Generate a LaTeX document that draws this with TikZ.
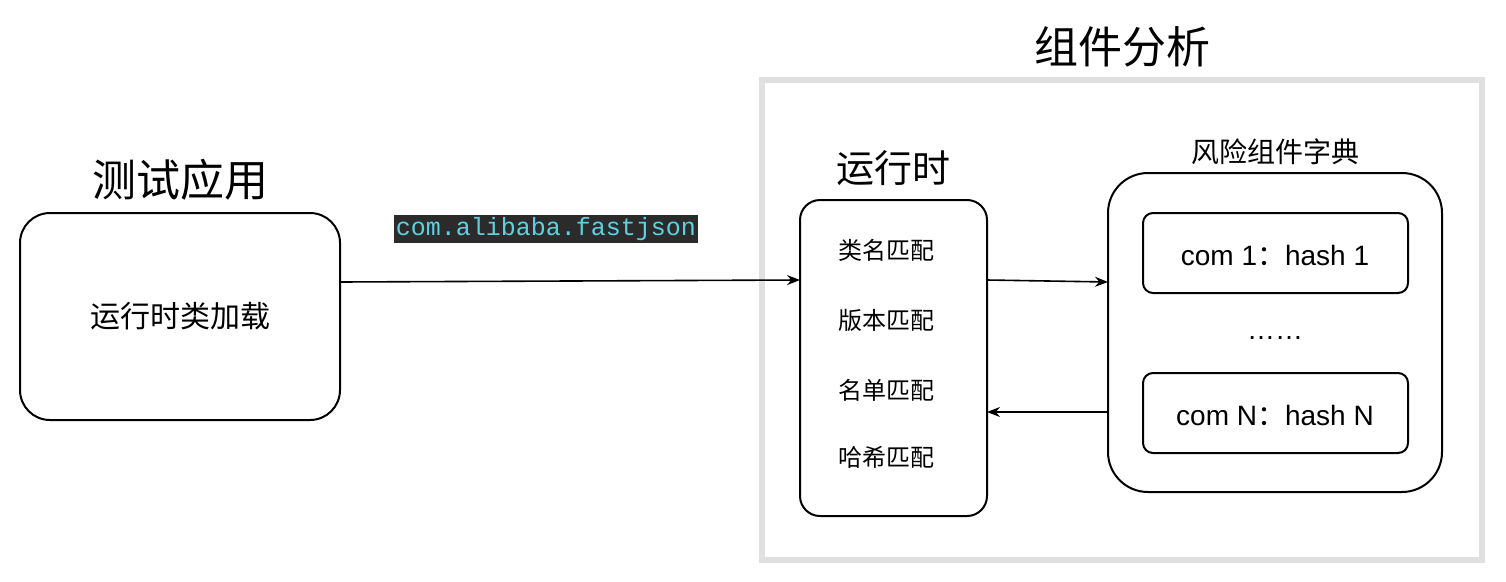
\documentclass[tikz,border=0pt]{standalone}
\usepackage{fontspec}
\setmainfont{Liberation Sans}
\setmonofont{Liberation Mono}
\newfontfamily\cjk{Noto Sans CJK SC}
\usetikzlibrary{arrows.meta}
\definecolor{lbl}{HTML}{2B2B2B}
\definecolor{cy}{HTML}{5FD0E0}
\begin{document}
\begin{tikzpicture}[x=1pt,y=-1pt,
  box/.style={draw,line width=2pt,rounded corners=#1},
  arr/.style={line width=1.6pt,-{Stealth[length=13pt,width=10pt]}},
  fs/.style={font=\fontsize{#1}{#1}\selectfont\cjk}]
\useasboundingbox (0,0) rectangle (1506,581);
\draw[line width=6pt,color=black!12] (762,80) rectangle (1482,560);
\node[fs=44] (t1) at (1122,47) {组件分析};
\node[fs=44] (t2) at (180,180) {测试应用};
\draw[box=30pt] (20,213) rectangle (340,420);
\node[fs=30] (app) at (180,316) {运行时类加载};
\coordinate (appE) at (340,282);
\node[fill=lbl,text=cy,inner sep=2pt,font=\fontsize{25}{25}\selectfont\ttfamily] (lab) at (546,229) {com.alibaba.fastjson};
\node[fs=38] (t3) at (893,168) {运行时};
\draw[box=20pt] (800,200) rectangle (987,516);
\coordinate (rtW) at (800,280);
\coordinate (rtE1) at (987,280);
\coordinate (rtE2) at (987,412);
\node[fs=24] (m1) at (886,250) {类名匹配};
\node[fs=24] (m2) at (886,320) {版本匹配};
\node[fs=24] (m3) at (886,390) {名单匹配};
\node[fs=24] (m4) at (886,457) {哈希匹配};
\node[fs=28] (t4) at (1275,152) {风险组件字典};
\draw[box=40pt] (1108,173) rectangle (1442,492);
\coordinate (dW1) at (1108,282);
\coordinate (dW2) at (1108,412);
\draw[box=10pt] (1143,213) rectangle (1408,293);
\draw[box=10pt] (1143,373) rectangle (1408,453);
\node[font=\fontsize{28}{28}\selectfont] (c1) at (1275,255) {com 1{\cjk ：}hash 1};
\node[font=\fontsize{28}{28}\selectfont] (c2) at (1275,415) {com N{\cjk ：}hash N};
\node[font=\fontsize{28}{28}\selectfont] (dots) at (1275,338) {……};
\draw[arr] (appE) -- (rtW);
\draw[arr] (rtE1) -- (dW1);
\draw[arr] (dW2) -- (rtE2);
\end{tikzpicture}
\end{document}
